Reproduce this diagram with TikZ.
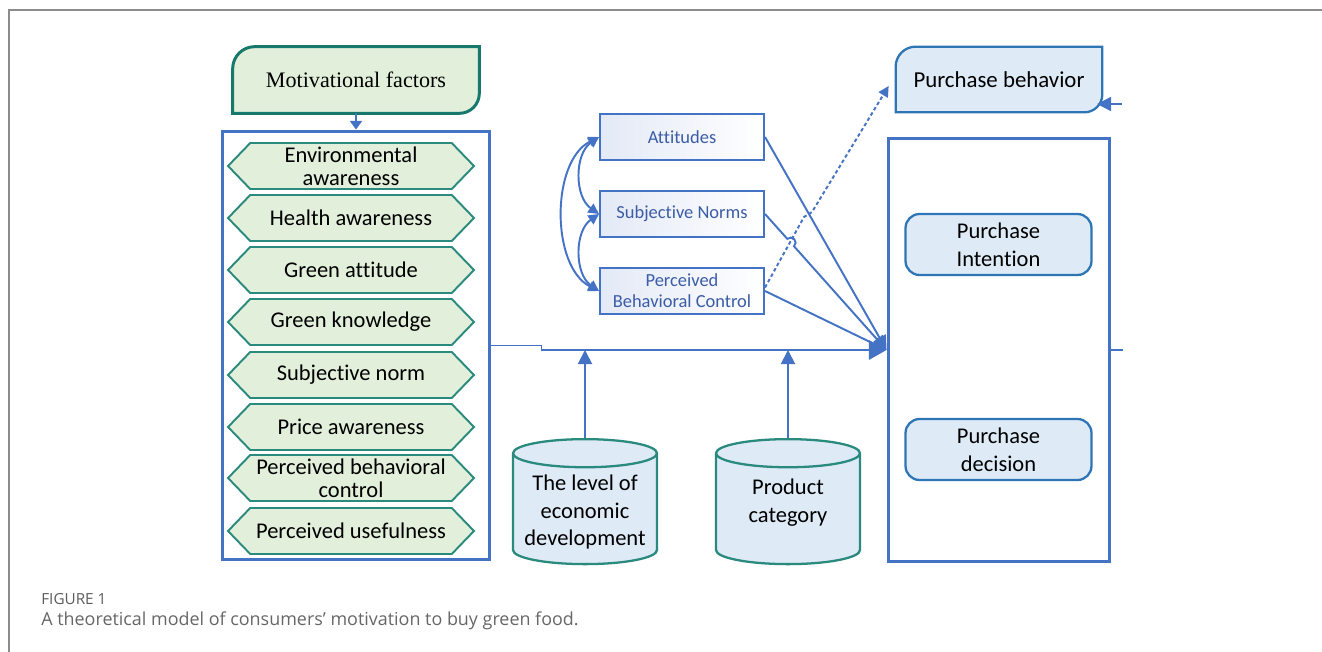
\documentclass[tikz,border=0pt]{standalone}
\usepackage{fontspec}
\setmainfont{Carlito}[Ligatures=NoCommon]
\newfontfamily\motfont{Liberation Serif}
\newfontfamily\capfont{Open Sans}
\usetikzlibrary{shapes.symbols,shapes.geometric,arrows.meta,calc,backgrounds}

\definecolor{lineblue}{HTML}{4472C4}
\definecolor{motteal}{HTML}{17786C}
\definecolor{hexteal}{HTML}{2A8A7E}
\definecolor{greenfill}{HTML}{E2EFDA}
\definecolor{bluefill}{HTML}{DEEBF7}
\definecolor{constfill}{HTML}{E3E9F6}
\definecolor{pillblue}{HTML}{2E75B6}
\definecolor{boxtext}{HTML}{3B5CA6}
\definecolor{framegray}{HTML}{8C8C8C}
\definecolor{capgray}{HTML}{666666}

\begin{document}
\begin{tikzpicture}[x=0.02cm, y=-0.02cm,
    factor/.style={signal, signal to=west and east, signal pointer angle=92, draw=hexteal, line width=1.1pt, fill=greenfill, minimum width=4.92cm, minimum height=0.92cm, inner sep=0pt, align=center, font=\fontsize{12.8}{13}\selectfont},
    construct/.style={rectangle, draw=lineblue, line width=1.2pt, left color=constfill, right color=white, minimum width=3.28cm, minimum height=0.92cm, inner sep=1pt, align=center, text=boxtext, font=\fontsize{10.5}{12}\selectfont},
    stage/.style={rectangle, rounded corners=8pt, draw=pillblue, line width=1.3pt, fill=bluefill, minimum width=3.72cm, minimum height=1.22cm, align=center, font=\fontsize{12.8}{15.9}\selectfont},
    moderator/.style={cylinder, shape border rotate=90, aspect=2.4, draw=hexteal, line width=1.3pt, fill=bluefill, minimum width=2.88cm, minimum height=2.5cm},
    flow/.style={draw=lineblue, line width=1.1pt},
    arrowed/.style={-{Triangle[length=8pt,width=8pt]}},
  ]
  \useasboundingbox (0,0) rectangle (1322,652);

  % frame and caption
  \draw[framegray, line width=1.3pt] (1322,10) -- (9,10) -- (9,652);
  \node[anchor=west, inner sep=0pt, text=capgray!90!black, font=\capfont\fontsize{8.7}{10}\selectfont] (fignum) at (41,599) {FIGURE 1};
  \node[anchor=west, inner sep=0pt, text=capgray, font=\capfont\fontsize{10.2}{12}\selectfont] (figcap) at (41,621) {A theoretical model of consumers’ motivation to buy green food.};

  % motivational factors
  \node[inner sep=0pt, minimum width=4.92cm, minimum height=1.32cm, font=\motfont\fontsize{12.6}{15}\selectfont] (mot) at (356,80) {Motivational factors};
  \node[draw=lineblue, line width=1.7pt, minimum width=5.36cm, minimum height=8.58cm] (fac) at (356,345.5) {};
  \node[factor] (f1) at (351,166) {Environmental\\awareness};
  \node[factor] (f2) at (351,218) {Health awareness};
  \node[factor] (f3) at (351,270) {Green attitude};
  \node[factor] (f4) at (351,322) {Green knowledge};
  \node[factor] (f5) at (351,375) {Subjective norm};
  \node[factor] (f6) at (351,427) {Price awareness};
  \node[factor] (f7) at (351,478) {Perceived behavioral\\control};
  \node[factor] (f8) at (351,531) {Perceived usefulness};

  % TPB constructs
  \node[construct] (att) at (682,137) {Attitudes};
  \node[construct] (sn) at (682,214) {Subjective Norms};
  \node[construct] (pbc) at (682,291) {Perceived\\Behavioral Control};

  % moderators
  \node[moderator, label={[align=center, font=\fontsize{12.8}{15.9}\selectfont, yshift=0pt]center:{The level of\\economic\\development}}] (eco) at (585,512) {};
  \node[moderator, label={[align=center, font=\fontsize{12.8}{15.9}\selectfont, yshift=5.5pt]center:{Product\\category}}] (cat) at (788,512) {};

  % purchase process
  \node[minimum width=4.12cm, minimum height=1.3cm, font=\fontsize{13}{16}\selectfont] (pb) at (999,79.5) {Purchase behavior};
  \node[draw=lineblue, line width=1.7pt, minimum width=4.44cm, minimum height=8.48cm] (pr) at (999,350) {};
  \node[stage] (pi) at (998.5,244.5) {Purchase\\Intention};
  \node[stage] (pd) at (998.5,449.5) {Purchase\\decision};

  \begin{scope}[on background layer]
    \draw[motteal, line width=1.7pt, fill=greenfill] (mot.south west) -- ($(mot.north west)+(0,22)$) arc[start angle=180, end angle=90, radius=0.44cm] -- (mot.north east) -- ($(mot.south east)+(0,-20)$) arc[start angle=0, end angle=-90, radius=0.4cm] -- cycle;
    \draw[pillblue, line width=1.3pt, fill=bluefill] (pb.south west) -- ($(pb.north west)+(0,20)$) arc[start angle=180, end angle=90, radius=0.4cm] -- (pb.north east) -- ($(pb.south east)+(0,-18)$) arc[start angle=0, end angle=-90, radius=0.36cm] -- cycle;
  \end{scope}

  % connectors
  \draw[flow, -{Triangle[length=5pt,width=7pt]}] (mot.south) -- (fac.north);
  \draw[flow, -{Triangle[length=10pt,width=11pt]}] (fac.east) -- ++(50,0) |- (pr.west);
  \draw[flow, arrowed] (eco.north) -- (eco.north |- pr.west);
  \draw[flow, arrowed] (cat.north) -- (cat.north |- pr.west);

  \draw[flow, arrowed] (att.east) -- (pr.west);
  \draw[flow, arrowed] (sn.east) -- ($(sn.east)!0.183!(pr.west)$) arc[start angle=132.4, end angle=-47.6, radius=0.1cm] -- (pr.west);
  \draw[flow, arrowed] (pbc.east) -- (pr.west);

  \draw[flow, {Triangle[length=6pt,width=6pt]}-{Triangle[length=6pt,width=6pt]}] (att.west) to[out=215, in=145] (sn.west);
  \draw[flow, {Triangle[length=6pt,width=6pt]}-{Triangle[length=6pt,width=6pt]}] (sn.west) to[out=215, in=145] (pbc.west);
  \draw[flow, {Triangle[length=6pt,width=6pt]}-{Triangle[length=6pt,width=6pt]}] (att.west) to[out=207, in=153, looseness=0.9] (pbc.west);

  \draw[flow, dash pattern=on 2pt off 1.5pt, -{Triangle[length=6pt,width=6pt]}] ([yshift=2pt]pbc.east) -- (804,217) -- (812,212) -- ([xshift=-4pt, yshift=-3.7pt]pb.west);

  \coordinate (pbin) at (1122,104);
  \draw[flow, arrowed] (pbin) -- ([xshift=-3pt]pbin -| pb.east);
  \draw[flow] (pr.east) -- ++(12,0);
\end{tikzpicture}
\end{document}
